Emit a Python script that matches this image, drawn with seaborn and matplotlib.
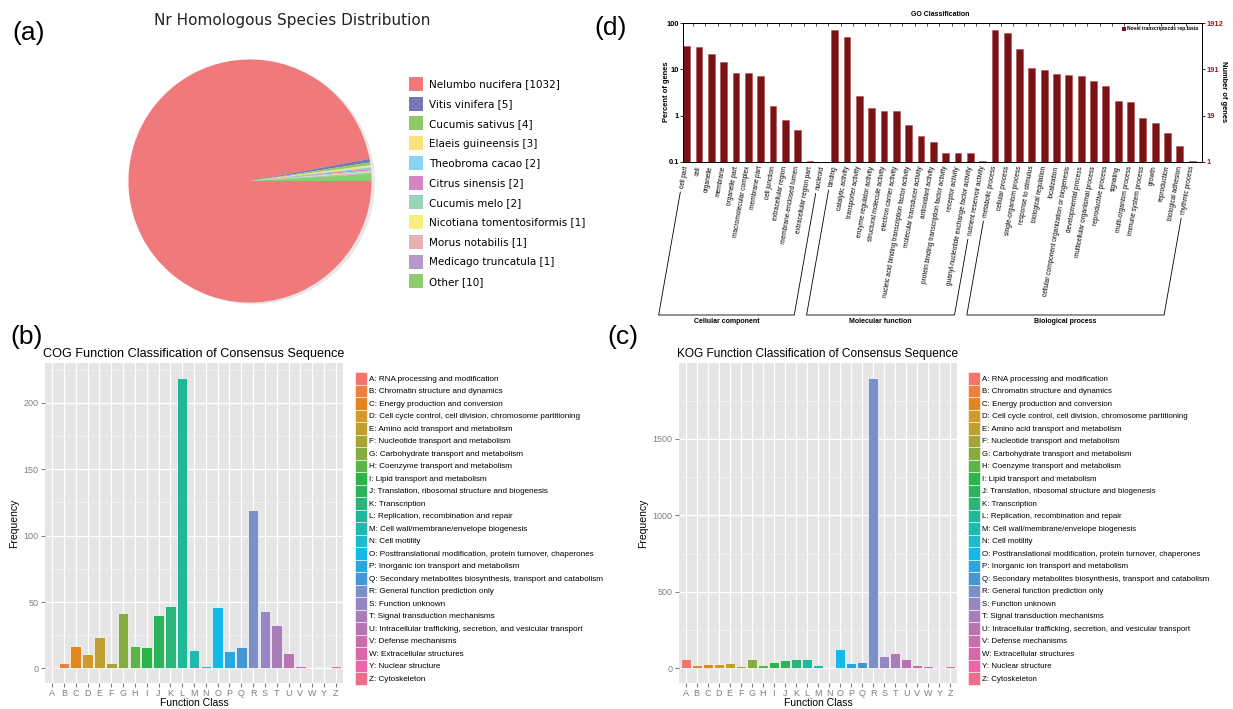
import numpy as np
import matplotlib
matplotlib.use("Agg")
import matplotlib.pyplot as plt
import seaborn as sns
from matplotlib.patches import Patch
from matplotlib.lines import Line2D
from matplotlib.ticker import NullLocator, FixedLocator

# -------------------------
# Datos
# -------------------------
species = ["Nelumbo nucifera", "Vitis vinifera", "Cucumis sativus", "Elaeis guineensis",
           "Theobroma cacao", "Citrus sinensis", "Cucumis melo", "Nicotiana tomentosiformis",
           "Morus notabilis", "Medicago truncatula", "Other"]
species_counts = [1032, 5, 4, 3, 2, 2, 2, 1, 1, 1, 10]
species_colors = ["#F07A7B", "#7676B9", "#90C968", "#FAE17B", "#89D4F0", "#D484C2",
                  "#97D6BA", "#F6EF7E", "#E6B1B0", "#B598CC", "#8FCB6F"]

classes = ["A", "B", "C", "D", "E", "F", "G", "H", "I", "J", "K", "L", "M",
           "N", "O", "P", "Q", "R", "S", "T", "U", "V", "W", "Y", "Z"]
class_desc = [
    "RNA processing and modification",
    "Chromatin structure and dynamics",
    "Energy production and conversion",
    "Cell cycle control, cell division, chromosome partitioning",
    "Amino acid transport and metabolism",
    "Nucleotide transport and metabolism",
    "Carbohydrate transport and metabolism",
    "Coenzyme transport and metabolism",
    "Lipid transport and metabolism",
    "Translation, ribosomal structure and biogenesis",
    "Transcription",
    "Replication, recombination and repair",
    "Cell wall/membrane/envelope biogenesis",
    "Cell motility",
    "Posttranslational modification, protein turnover, chaperones",
    "Inorganic ion transport and metabolism",
    "Secondary metabolites biosynthesis, transport and catabolism",
    "General function prediction only",
    "Function unknown",
    "Signal transduction mechanisms",
    "Intracellular trafficking, secretion, and vesicular transport",
    "Defense mechanisms",
    "Extracellular structures",
    "Nuclear structure",
    "Cytoskeleton",
]
cog_freq = [1, 4, 17, 11, 24, 4, 42, 17, 16, 40, 47, 219, 14,
            2, 46, 13, 16, 119, 43, 33, 12, 2, 0, 0, 2]
kog_freq = [59, 20, 26, 32, 35, 13, 61, 24, 39, 54, 65, 63, 20,
            0, 124, 33, 39, 1901, 83, 102, 61, 22, 13, 9, 17]

go_cc = ["cell part", "cell", "organelle", "membrane", "organelle part",
         "macromolecular complex", "membrane part", "cell junction",
         "extracellular region", "membrane-enclosed lumen",
         "extracellular region part", "nucleoid"]
go_cc_pct = [32, 30.5, 21.5, 14.3, 8.4, 8.2, 7.1, 1.6, 0.8, 0.49, 0.106, 0.05]
go_mf = ["binding", "catalytic activity", "transporter activity",
         "enzyme regulator activity", "structural molecule activity",
         "electron carrier activity",
         "nucleic acid binding transcription factor activity",
         "molecular transducer activity", "antioxidant activity",
         "protein binding transcription factor activity", "receptor activity",
         "guanyl-nucleotide exchange factor activity", "nutrient reservoir activity"]
go_mf_pct = [69, 50.5, 2.6, 1.43, 1.27, 1.27, 0.64, 0.37, 0.27, 0.16, 0.16, 0.16, 0.106]
go_bp = ["metabolic process", "cellular process", "single-organism process",
         "response to stimulus", "biological regulation", "localization",
         "cellular component organization or biogenesis", "developmental process",
         "multicellular organismal process", "reproductive process", "signaling",
         "multi-organism process", "immune system process", "growth",
         "reproduction", "biological adhesion", "rhythmic process"]
go_bp_pct = [69, 60.7, 26.8, 10.9, 9.9, 7.8, 7.4, 7.1, 5.6, 4.3, 2.03, 1.96,
             0.87, 0.70, 0.42, 0.22, 0.106]
go_groups = ["Cellular component", "Molecular function", "Biological process"]
go_total = 1912

# paleta tipo ggplot (tal como se ve impresa)
gg_colors = ["#F2766E", "#EE7F3F", "#E3861F", "#D39A2B", "#BDA02F", "#A8A337", "#86AC41",
             "#5DB548", "#2CB34A", "#2DB35C", "#2BB57A", "#1FB899", "#1EBAB0", "#1CBCCC",
             "#12B9E9", "#2CA6E0", "#4497D3", "#7B8FC9", "#9686C1", "#A87DBA", "#B874B0",
             "#C96EAD", "#DA68A8", "#EC65A7", "#EF6D8A"]
n_cls = len(classes)

W, H = 1233, 709
fig = plt.figure(figsize=(W / 100, H / 100), dpi=100)
fig.patch.set_facecolor("white")


def fx(px):
    return px / W


def fy(py):
    return 1 - py / H


def legend_hh(row_px, fs_pt):
    # altura de la caja del handle en matplotlib: fs*(0.65*hh + 0.245)
    fs_px = fs_pt * 100 / 72
    return (row_px / fs_px - 0.245) / 0.65


# -------------------------
# (a) Pie
# -------------------------
ax_pie = fig.add_axes([fx(126), fy(305), 248 / W, 248 / H])
wedges, _ = ax_pie.pie(species_counts, colors=species_colors, startangle=0,
                       counterclock=False, wedgeprops=dict(linewidth=0),
                       shadow=dict(ox=0.02, oy=-0.01, facecolor="#e2e2e2",
                                   edgecolor="none", alpha=0.8))
ax_pie.set_xlim(-1.02, 1.02)
ax_pie.set_ylim(-1.02, 1.02)
fig.text(fx(292), fy(20), "Nr Homologous Species Distribution", ha="center", va="center",
         fontsize=11, family="DejaVu Sans", color="#222222")
pie_labels = [f"{s} [{c}]" for s, c in zip(species, species_counts)]
fs_a = 7.5
ax_pie.legend(wedges, pie_labels, loc="upper left", bbox_to_anchor=(fx(409), fy(77)),
              bbox_transform=fig.transFigure, frameon=False,
              handlelength=14 / (fs_a * 100 / 72), handleheight=legend_hh(14, fs_a),
              labelspacing=0.55, handletextpad=0.55, borderpad=0, borderaxespad=0,
              prop={"family": "DejaVu Sans", "size": fs_a})


# -------------------------
# (b) y (c) COG / KOG estilo ggplot
# -------------------------
def gg_panel(rect, values, title, title_fs, ymax_tick, step, leg_xy, leg_fs):
    ax = fig.add_axes(rect)
    ax.set_facecolor("#E5E5E5")
    sns.barplot(x=classes, y=values, hue=classes, palette=gg_colors, legend=False,
                width=0.9, saturation=1, edgecolor="white", linewidth=0.5, ax=ax, zorder=3)
    top = max(values)
    ax.set_xlim(-0.6, n_cls - 0.4)
    ax.set_ylim(-0.05 * top, top * 1.05)
    major = np.arange(0, ymax_tick + 1, step)
    ax.yaxis.set_major_locator(FixedLocator(major))
    ax.yaxis.set_minor_locator(FixedLocator(np.arange(step / 2, top * 1.05, step)))
    ax.grid(which="major", color="white", linewidth=0.9, zorder=0)
    ax.grid(which="minor", axis="y", color="#F2F2F2", linewidth=0.5, zorder=0)
    ax.set_axisbelow(True)
    for s in ax.spines.values():
        s.set_visible(False)
    ax.tick_params(which="major", length=3, color="#7F7F7F", labelcolor="#7F7F7F",
                   labelsize=6.5, pad=1.5)
    ax.tick_params(which="minor", length=0)
    for lab in ax.get_xticklabels() + ax.get_yticklabels():
        lab.set_family("Liberation Sans")
    ax.set_xlabel("Function Class", fontsize=7.5, family="Liberation Sans", labelpad=0)
    ax.set_ylabel("Frequency", fontsize=7.5, family="Liberation Sans", labelpad=3)
    ax.set_title(title, fontsize=title_fs, family="Liberation Sans", pad=4)
    handles = [Patch(facecolor=c, edgecolor="white", linewidth=0.4) for c in gg_colors]
    labels = [f"{k}: {d}" for k, d in zip(classes, class_desc)]
    ax.legend(handles, labels, loc="upper left", bbox_to_anchor=leg_xy,
              bbox_transform=fig.transFigure, frameon=False,
              handlelength=12 / (leg_fs * 100 / 72), handleheight=legend_hh(12.5, leg_fs),
              labelspacing=0, handletextpad=0.3, borderpad=0, borderaxespad=0,
              prop={"family": "Liberation Sans", "size": leg_fs})
    return ax


gg_panel([fx(45), fy(683), 298 / W, 320 / H], cog_freq,
         "COG Function Classification of Consensus Sequence", 9.1, 200, 50,
         (fx(355), fy(372)), 5.9)
gg_panel([fx(679), fy(683), 278 / W, 320 / H], kog_freq,
         "KOG Function Classification of Consensus Sequence", 8.6, 1500, 500,
         (fx(968), fy(372)), 5.65)

# -------------------------
# (d) GO Classification
# -------------------------
go_terms = go_cc + go_mf + go_bp
go_pct = go_cc_pct + go_mf_pct + go_bp_pct
go_red = "#7A1315"

axd = fig.add_axes([fx(683), fy(162), 519 / W, 139 / H])
axd.set_yscale("log")
sns.barplot(x=go_terms, y=go_pct, color=go_red, saturation=1, width=0.55,
            edgecolor="#B34B4D", linewidth=0.4, ax=axd)
axd.set_ylim(0.1, 100)
axd.set_xlim(-0.3, len(go_terms) - 0.2)
axd.set_yticks([0.1, 1, 10, 100])
axd.set_yticklabels(["0.1", "1", "10", "100"], fontsize=5.4, fontweight="bold",
                    family="Liberation Sans")
axd.yaxis.set_minor_locator(NullLocator())
axd.set_xticks(range(len(go_terms)))
axd.set_xticklabels(go_terms, rotation=80, ha="right", va="center", rotation_mode="anchor",
                    fontsize=4.7, family="Liberation Sans")
axd.xaxis.set_minor_locator(FixedLocator(np.arange(0.5, len(go_terms) - 0.5, 1)))
axd.tick_params(axis="x", which="major", length=0, pad=3)
axd.tick_params(axis="x", which="minor", bottom=False, top=True, direction="in", length=2,
                width=0.5)
axd.tick_params(axis="y", length=2, width=0.6, pad=1)
for s in axd.spines.values():
    s.set_linewidth(0.7)
axd.set_ylabel("")
axd.set_xlabel("")
fig.text(fx(666), fy(92), "Percent of genes", rotation=90, ha="center", va="center",
         fontsize=5.4, fontweight="bold", family="Liberation Sans")

axr = axd.twinx()
axr.set_yscale("log")
axr.set_ylim(0.1, 100)
axr.set_yticks([0.1, 1, 10, 100])
axr.set_yticklabels(["1", str(round(go_total / 100)), str(round(go_total / 10)), str(go_total)],
                    fontsize=5.4, fontweight="bold", color="#9E1B1F", family="Liberation Sans")
axr.yaxis.set_minor_locator(NullLocator())
axr.tick_params(axis="y", length=2, width=0.6, pad=1)
for s in axr.spines.values():
    s.set_linewidth(0.7)
fig.text(fx(1223), fy(92), "Number of genes", rotation=270, ha="center", va="center",
         fontsize=5.4, fontweight="bold", family="Liberation Sans")

axd.legend([Patch(facecolor=go_red)], ["Novel transcriptscds rep.fasta"], loc="upper right",
           frameon=False, handlelength=0.8, handleheight=0.8, handletextpad=0.4,
           borderaxespad=0.3, prop={"family": "Liberation Sans", "size": 3.5, "weight": "bold"})
fig.text(fx(940), fy(15), "GO Classification", ha="center", va="center", fontsize=5,
         fontweight="bold", family="Liberation Sans")

# corchetes de grupos bajo las etiquetas
fig.canvas.draw()
renderer = fig.canvas.get_renderer()
labs = axd.get_xticklabels()
sizes = [len(go_cc), len(go_mf), len(go_bp)]
y_h = H - 315
slope = np.tan(np.radians(80))
start = 0
for grp, n in zip(go_groups, sizes):
    b1 = labs[start].get_window_extent(renderer)
    b2 = labs[start + n - 1].get_window_extent(renderer)
    p1 = (b1.x0 + 1, b1.y0 - 3)
    p2 = (b2.x0 + 1, b2.y0 - 3)
    q1 = (p1[0] - (p1[1] - y_h) / slope, y_h)
    q2 = (p2[0] - (p2[1] - y_h) / slope, y_h)
    xs = [p1[0], q1[0], q2[0], p2[0]]
    ys = [p1[1], q1[1], q2[1], p2[1]]
    fig.add_artist(Line2D([x / W for x in xs], [y / H for y in ys], color="black",
                          linewidth=0.6, transform=fig.transFigure))
    fig.text((q1[0] + q2[0]) / 2 / W, (y_h - 3) / H, grp, ha="center", va="top",
             fontsize=5, fontweight="bold", family="Liberation Sans")
    start += n

# etiquetas de panel
for txt, px, py in [("(a)", 12, 33), ("(b)", 10, 337), ("(c)", 607, 337), ("(d)", 594, 28)]:
    fig.text(fx(px), fy(py), txt, ha="left", va="center", fontsize=19,
             family="Liberation Sans")

fig.savefig("out.png", dpi=100)
